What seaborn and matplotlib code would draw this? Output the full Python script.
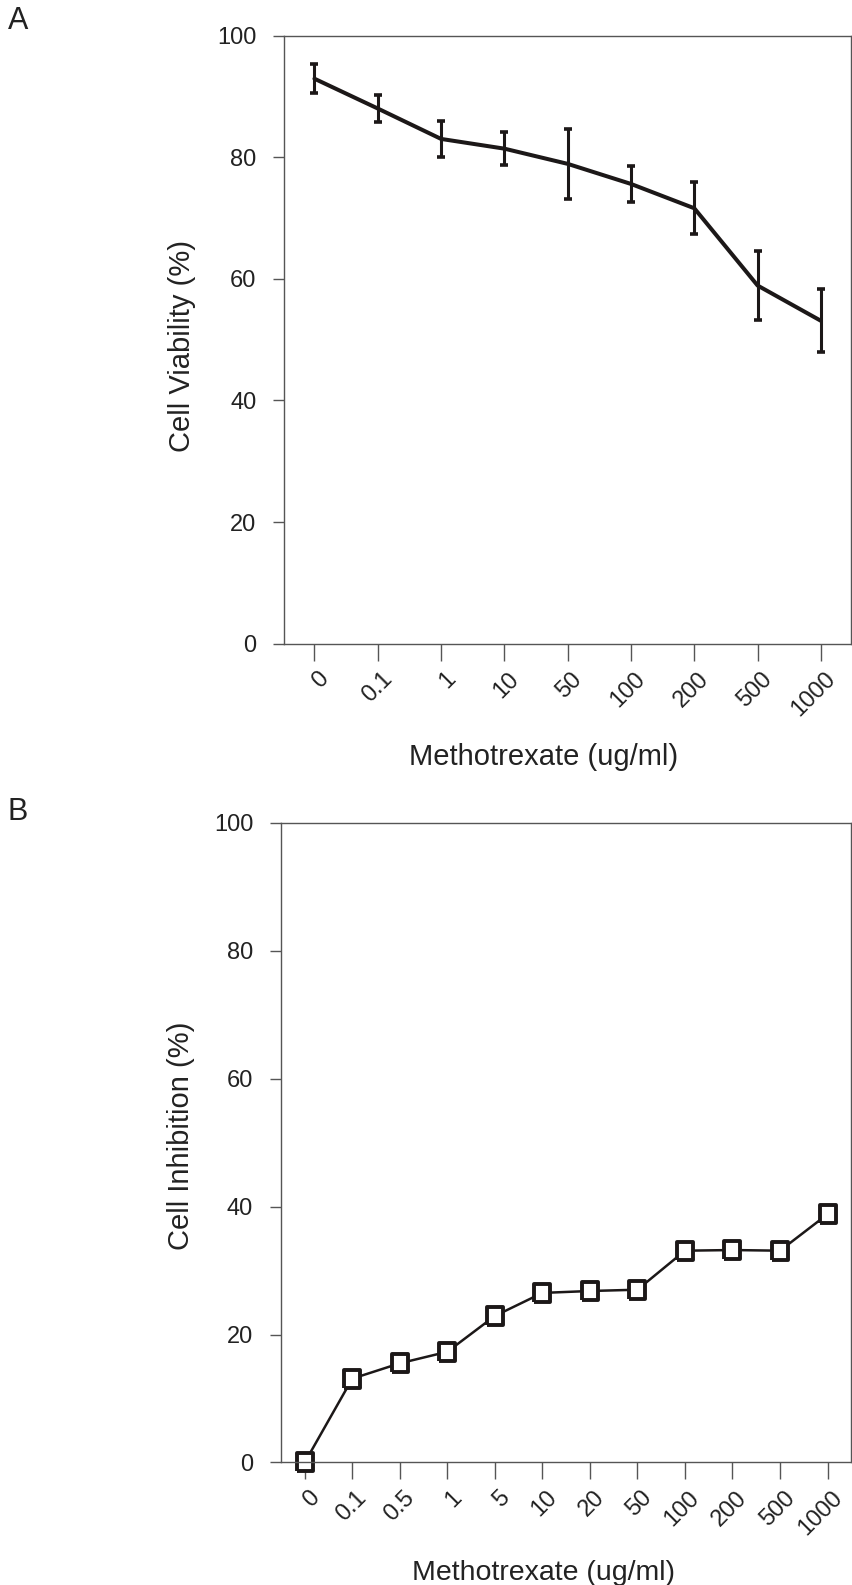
import numpy as np
import pandas as pd
import seaborn as sns
import matplotlib.pyplot as plt
from matplotlib.transforms import ScaledTranslation

# ---- data ----
doses_a = ["0", "0.1", "1", "10", "50", "100", "200", "500", "1000"]
viability = [92.9, 88.0, 83.0, 81.4, 78.9, 75.6, 71.6, 58.9, 53.1]
viability_err = [2.4, 2.3, 3.0, 2.7, 5.7, 2.9, 4.3, 5.6, 5.2]

doses_b = ["0", "0.1", "0.5", "1", "5", "10", "20", "50", "100", "200", "500", "1000"]
inhibition = [0.0, 13.1, 15.5, 17.3, 22.9, 26.5, 26.8, 27.0, 33.1, 33.2, 33.1, 38.8]

yticks = [0, 20, 40, 60, 80, 100]

sns.set_theme(style="ticks")
plt.rcParams["font.family"] = ["Liberation Sans", "DejaVu Sans"]

INK = "#1c1818"
SPINE = "#555555"

fig = plt.figure(figsize=(8.53, 15.85), dpi=100)
axA = fig.add_axes([0.333, 0.5938, 0.665, 0.3838])
axB = fig.add_axes([0.3294, 0.0773, 0.6686, 0.4037])

dfA = pd.DataFrame({"pos": np.arange(len(doses_a)), "val": viability, "err": viability_err})
dfB = pd.DataFrame({"pos": np.arange(len(doses_b)), "val": inhibition})

sns.lineplot(data=dfA, x="pos", y="val", ax=axA, color=INK, linewidth=2.9, sort=False)
axA.errorbar(dfA["pos"], dfA["val"], yerr=dfA["err"], fmt="none", ecolor=INK,
             elinewidth=2.2, capsize=3.0, capthick=2.6, zorder=3)

rect = [(-0.85, -1), (0.85, -1), (0.85, 1), (-0.85, 1), (-0.85, -1)]
sns.lineplot(data=dfB, x="pos", y="val", ax=axB, color=INK, linewidth=1.8, sort=False,
             marker=rect, markersize=13.5, markerfacecolor="white",
             markeredgecolor=INK, markeredgewidth=2.8, clip_on=False)

def style(ax, cats, ylabel, xlab_xy, ylab_xy, xlabsize):
    n = len(cats)
    ax.set_xlim(-0.5 if n == 12 else -0.48, n - 0.5 if n == 12 else n - 0.52)
    ax.set_ylim(0, 100)
    ax.set_yticks(yticks)
    ax.set_yticklabels([str(t) for t in yticks])
    ax.set_xticks(np.arange(n))
    ax.set_xticklabels(cats, rotation=45, ha="right")
    for sp in ax.spines.values():
        sp.set_visible(True)
        sp.set_color(SPINE)
        sp.set_linewidth(1.0)
    ax.tick_params(axis="y", direction="out", length=8, width=1.0, color=SPINE,
                   pad=12, labelsize=17, labelcolor="#222222")
    ax.tick_params(axis="x", direction="out", length=12.5, width=1.0, color=SPINE,
                   pad=5, labelsize=17, labelcolor="#222222")
    off = ScaledTranslation(0.19, 0.0, fig.dpi_scale_trans)
    for lab in ax.get_xticklabels():
        lab.set_transform(lab.get_transform() + off)
    ax.set_xlabel("Methotrexate (ug/ml)", fontsize=xlabsize, color="#222222")
    ax.set_ylabel(ylabel, fontsize=21, color="#222222")
    ax.xaxis.set_label_coords(*xlab_xy)
    ax.yaxis.set_label_coords(*ylab_xy)
    ax.grid(False)

style(axA, doses_a, "Cell Viability (%)", (0.458, -0.163), (-0.156, 0.49), 21)
style(axB, doses_b, "Cell Inhibition (%)", (0.46, -0.152), (-0.151, 0.51), 20.5)

fig.text(8 / 853, 1 - 6 / 1585, "A", fontsize=22, va="top", ha="left", color="#222222")
fig.text(8 / 853, 1 - 797 / 1585, "B", fontsize=22, va="top", ha="left", color="#222222")

fig.savefig("out.png", dpi=100)
